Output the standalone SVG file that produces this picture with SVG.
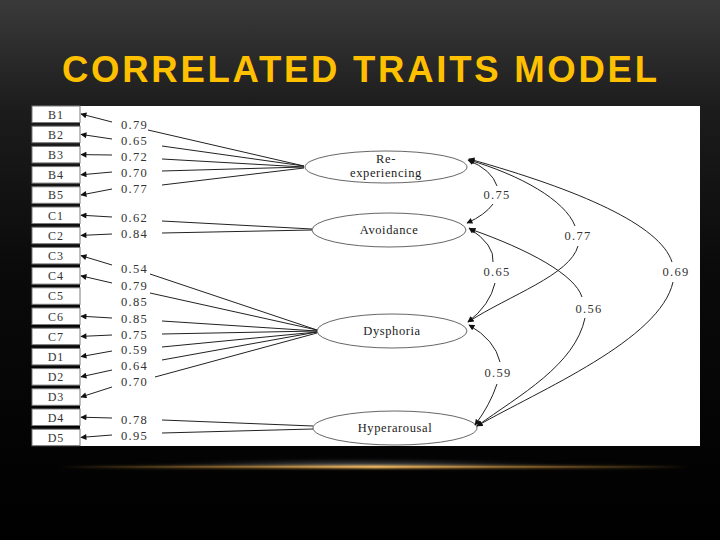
<svg xmlns="http://www.w3.org/2000/svg" width="720" height="540" viewBox="0 0 720 540">
<defs>
<linearGradient id="bg" x1="0" y1="0" x2="0" y2="1">
<stop offset="0" stop-color="#3a3a3a"/>
<stop offset="0.2" stop-color="#1c1c1c"/>
<stop offset="0.5" stop-color="#0a0a0a"/>
<stop offset="1" stop-color="#000"/>
</linearGradient>
<radialGradient id="glow" cx="0.5" cy="1" r="0.5">
<stop offset="0" stop-color="#6e6e6e"/>
<stop offset="0.5" stop-color="#3a3a3a" stop-opacity="0.6"/>
<stop offset="1" stop-color="#000" stop-opacity="0"/>
</radialGradient>
<linearGradient id="gold" x1="0" y1="0" x2="1" y2="0">
<stop offset="0" stop-color="#c08a3a" stop-opacity="0"/>
<stop offset="0.3" stop-color="#c8903e" stop-opacity="0.6"/>
<stop offset="0.5" stop-color="#f0b860"/>
<stop offset="0.7" stop-color="#c8903e" stop-opacity="0.6"/>
<stop offset="1" stop-color="#c08a3a" stop-opacity="0"/>
</linearGradient>
<filter id="blur" x="-10%" y="-200%" width="120%" height="500%"><feGaussianBlur stdDeviation="1.2"/></filter>
<marker id="ah" viewBox="0 0 10 10" refX="9" refY="5" markerWidth="7" markerHeight="6" markerUnits="userSpaceOnUse" orient="auto-start-reverse">
<path d="M0,0 L10,5 L0,10 z" fill="#111"/>
</marker>
<style>
.box{fill:#fff;stroke:#7a7a7a;stroke-width:1}
.bt{font-family:"Liberation Serif","Times New Roman",serif;font-size:12px;fill:#333;text-anchor:middle;letter-spacing:1px}
.lt{font-family:"Liberation Serif","Times New Roman",serif;font-size:12.5px;fill:#333;letter-spacing:1.3px}
.ct{font-family:"Liberation Serif","Times New Roman",serif;font-size:12.5px;fill:#333;text-anchor:middle;letter-spacing:1.3px}
.el{fill:#fff;stroke:#555;stroke-width:0.9}
.et{font-family:"Liberation Serif","Times New Roman",serif;font-size:12.5px;fill:#222;text-anchor:middle;letter-spacing:0.6px}
.ln{fill:none;stroke:#222;stroke-width:1}
</style>
</defs>
<rect x="0" y="0" width="720" height="540" fill="url(#bg)"/>
<text x="62" y="82" font-family="'Liberation Sans',Arial,sans-serif" font-weight="bold" font-size="36.5" fill="#FFC000" textLength="595" lengthAdjust="spacing">CORRELATED TRAITS MODEL</text>
<rect x="120" y="446" width="480" height="21" fill="url(#glow)"/>
<rect x="60" y="465.5" width="630" height="3" fill="url(#gold)" filter="url(#blur)"/>
<rect x="60" y="466.3" width="630" height="1.2" fill="url(#gold)"/>
<rect x="80" y="106" width="620" height="340" fill="#fff"/>
<g id="indicators">
<g id="B1"><rect class="box" x="32" y="106" width="48" height="16.5"/><text class="bt" x="56" y="118.5">B1</text></g>
<g id="B2"><rect class="box" x="32" y="126.2" width="48" height="16.5"/><text class="bt" x="56" y="138.7">B2</text></g>
<g id="B3"><rect class="box" x="32" y="146.4" width="48" height="16.5"/><text class="bt" x="56" y="158.9">B3</text></g>
<g id="B4"><rect class="box" x="32" y="166.6" width="48" height="16.5"/><text class="bt" x="56" y="179.1">B4</text></g>
<g id="B5"><rect class="box" x="32" y="186.8" width="48" height="16.5"/><text class="bt" x="56" y="199.3">B5</text></g>
<g id="C1"><rect class="box" x="32" y="207" width="48" height="16.5"/><text class="bt" x="56" y="219.5">C1</text></g>
<g id="C2"><rect class="box" x="32" y="227.2" width="48" height="16.5"/><text class="bt" x="56" y="239.7">C2</text></g>
<g id="C3"><rect class="box" x="32" y="247.4" width="48" height="16.5"/><text class="bt" x="56" y="259.9">C3</text></g>
<g id="C4"><rect class="box" x="32" y="267.6" width="48" height="16.5"/><text class="bt" x="56" y="280.1">C4</text></g>
<g id="C5"><rect class="box" x="32" y="287.8" width="48" height="16.5"/><text class="bt" x="56" y="300.3">C5</text></g>
<g id="C6"><rect class="box" x="32" y="308" width="48" height="16.5"/><text class="bt" x="56" y="320.5">C6</text></g>
<g id="C7"><rect class="box" x="32" y="328.2" width="48" height="16.5"/><text class="bt" x="56" y="340.7">C7</text></g>
<g id="D1"><rect class="box" x="32" y="348.4" width="48" height="16.5"/><text class="bt" x="56" y="360.9">D1</text></g>
<g id="D2"><rect class="box" x="32" y="368.6" width="48" height="16.5"/><text class="bt" x="56" y="381.1">D2</text></g>
<g id="D3"><rect class="box" x="32" y="388.8" width="48" height="16.5"/><text class="bt" x="56" y="401.3">D3</text></g>
<g id="D4"><rect class="box" x="32" y="409" width="48" height="16.5"/><text class="bt" x="56" y="421.5">D4</text></g>
<g id="D5"><rect class="box" x="32" y="429.2" width="48" height="16.5"/><text class="bt" x="56" y="441.7">D5</text></g>
</g>
<g id="factors">
<g id="reexperiencing"><ellipse class="el" cx="386" cy="167" rx="81" ry="16"/><text class="et" x="386" y="163">Re-</text><text class="et" x="386" y="177">experiencing</text></g>
<g id="avoidance"><ellipse class="el" cx="389" cy="230" rx="77" ry="17"/><text class="et" x="389" y="234">Avoidance</text></g>
<g id="dysphoria"><ellipse class="el" cx="392" cy="331" rx="75" ry="17"/><text class="et" x="392" y="335">Dysphoria</text></g>
<g id="hyperarousal"><ellipse class="el" cx="395" cy="428" rx="82" ry="17"/><text class="et" x="395" y="432">Hyperarousal</text></g>
</g>
<g id="connectors">
<path class="ln" marker-end="url(#ah)" d="M112,122 L81,114"/>
<path class="ln" marker-end="url(#ah)" d="M112,139 L81,134.4"/>
<path class="ln" marker-end="url(#ah)" d="M112,155 L81,154.6"/>
<path class="ln" marker-end="url(#ah)" d="M112,172 L81,174.8"/>
<path class="ln" marker-end="url(#ah)" d="M112,189 L81,195"/>
<path class="ln" marker-end="url(#ah)" d="M112,217 L81,215.2"/>
<path class="ln" marker-end="url(#ah)" d="M112,234 L81,235.4"/>
<path class="ln" marker-end="url(#ah)" d="M112,265 L81,255.6"/>
<path class="ln" marker-end="url(#ah)" d="M112,283 L81,275.8"/>
<path class="ln" marker-end="url(#ah)" d="M112,318 L81,316.2"/>
<path class="ln" marker-end="url(#ah)" d="M112,335 L81,336.4"/>
<path class="ln" marker-end="url(#ah)" d="M112,351 L81,356.6"/>
<path class="ln" marker-end="url(#ah)" d="M112,370 L81,376.8"/>
<path class="ln" marker-end="url(#ah)" d="M112,387 L81,397"/>
<path class="ln" marker-end="url(#ah)" d="M112,418 L81,417.2"/>
<path class="ln" marker-end="url(#ah)" d="M112,435 L81,437.4"/>
<path class="ln" d="M148,130 L304,166 M162,146 L304,166 M162,159 L304,167 M162,171 L304,167 M162,185 L304,168"/>
<path class="ln" d="M162,221 L312,229 M162,233 L312,230"/>
<path class="ln" d="M150,274 L317,330 M150,293 L317,330 M162,321 L317,331 M162,334 L317,331 M162,347 L317,332 M162,360 L317,332 M155,377 L317,333"/>
<path class="ln" d="M162,420 L313,426 M162,433 L313,429"/>
<path class="ln" marker-start="url(#ah)" d="M468,160 Q492,170 497,186"/>
<path class="ln" marker-end="url(#ah)" d="M493,204 Q485,215 467,223"/>
<path class="ln" marker-start="url(#ah)" d="M469,160 C520,175 565,200 575,226"/>
<path class="ln" marker-end="url(#ah)" d="M578,246 C570,275 510,295 468,322"/>
<path class="ln" marker-start="url(#ah)" d="M469,159 C580,190 660,225 672,262"/>
<path class="ln" marker-end="url(#ah)" d="M673,282 C660,340 540,390 477,426"/>
<path class="ln" marker-start="url(#ah)" d="M469,228 Q495,245 493,262"/>
<path class="ln" marker-end="url(#ah)" d="M495,283 Q490,305 468,322"/>
<path class="ln" marker-start="url(#ah)" d="M470,229 C530,250 575,275 582,297"/>
<path class="ln" marker-end="url(#ah)" d="M585,318 C575,365 520,395 477,426"/>
<path class="ln" marker-start="url(#ah)" d="M469,325 Q495,340 500,362"/>
<path class="ln" marker-end="url(#ah)" d="M497,384 Q490,405 475,425"/>
</g>
<g id="labels">
<text class="lt" x="121" y="129">0.79</text>
<text class="lt" x="121" y="145">0.65</text>
<text class="lt" x="121" y="161">0.72</text>
<text class="lt" x="121" y="177">0.70</text>
<text class="lt" x="121" y="193">0.77</text>
<text class="lt" x="121" y="222">0.62</text>
<text class="lt" x="121" y="238">0.84</text>
<text class="lt" x="121" y="273">0.54</text>
<text class="lt" x="121" y="290">0.79</text>
<text class="lt" x="121" y="306">0.85</text>
<text class="lt" x="121" y="323">0.85</text>
<text class="lt" x="121" y="339">0.75</text>
<text class="lt" x="121" y="354">0.59</text>
<text class="lt" x="121" y="370">0.64</text>
<text class="lt" x="121" y="386">0.70</text>
<text class="lt" x="121" y="424">0.78</text>
<text class="lt" x="121" y="440">0.95</text>
<text class="ct" x="497" y="199">0.75</text>
<text class="ct" x="578" y="240">0.77</text>
<text class="ct" x="676" y="276">0.69</text>
<text class="ct" x="497" y="276">0.65</text>
<text class="ct" x="589" y="313">0.56</text>
<text class="ct" x="498" y="377">0.59</text>
</g>
</svg>
